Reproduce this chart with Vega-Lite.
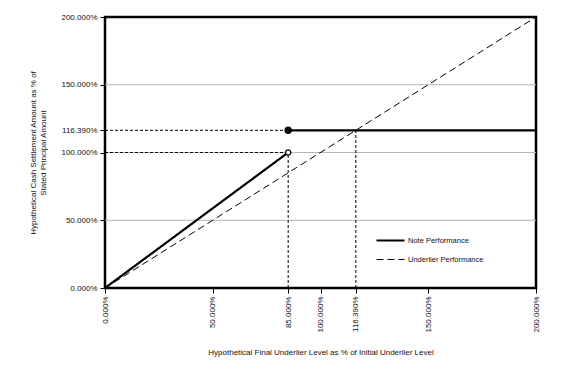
{
  "$schema": "https://vega.github.io/schema/vega-lite/v6.json",
  "width": 431,
  "height": 271,
  "autosize": {"type": "none"},
  "padding": {"left": 105, "top": 17, "right": 37, "bottom": 84},
  "config": {
    "font": "Liberation Sans",
    "view": {"stroke": "black", "strokeWidth": 2.5},
    "axis": {
      "labelFont": "Liberation Sans",
      "titleFont": "Liberation Sans",
      "labelFontSize": 8,
      "titleFontSize": 8,
      "titleFontWeight": "normal",
      "labelColor": "#111",
      "titleColor": "#111",
      "tickColor": "#000",
      "tickSize": 5,
      "domain": false,
      "grid": false
    },
    "legend": {
      "labelFont": "Liberation Sans",
      "labelFontSize": 7.5,
      "labelColor": "#111"
    }
  },
  "datasets": {
    "grid": [
      {"x": 0, "x2": 2, "y": 0.5},
      {"x": 0, "x2": 2, "y": 1.0},
      {"x": 0, "x2": 2, "y": 1.5}
    ],
    "refs": [
      {"x": 0, "x2": 0.85, "y": 1.1639, "y2": 1.1639},
      {"x": 0, "x2": 0.85, "y": 1.0, "y2": 1.0},
      {"x": 0.85, "x2": 0.85, "y": 0, "y2": 1.0},
      {"x": 1.1639, "x2": 1.1639, "y": 0, "y2": 1.1639}
    ],
    "lines": [
      {"series": "Note Performance", "seg": "a", "x": 0, "y": 0},
      {"series": "Note Performance", "seg": "a", "x": 0.85, "y": 1.0},
      {"series": "Note Performance", "seg": "b", "x": 0.85, "y": 1.1639},
      {"series": "Note Performance", "seg": "b", "x": 2.0, "y": 1.1639},
      {"series": "Underlier Performance", "seg": "c", "x": 0, "y": 0},
      {"series": "Underlier Performance", "seg": "c", "x": 2.0, "y": 2.0}
    ],
    "points": [
      {"kind": "closed", "x": 0.85, "y": 1.1639},
      {"kind": "open", "x": 0.85, "y": 1.0}
    ]
  },
  "encoding": {
    "x": {
      "field": "x",
      "type": "quantitative",
      "scale": {"domain": [0, 2], "nice": false, "zero": false},
      "axis": {
        "values": [0, 0.5, 0.85, 1, 1.1639, 1.5, 2],
        "format": ".3%",
        "labelAngle": 270,
        "labelAlign": "right",
        "labelBaseline": "middle",
        "labelPadding": 3,
        "title": "Hypothetical Final Underlier Level as % of Initial Underlier Level",
        "titlePadding": 16
      }
    },
    "y": {
      "field": "y",
      "type": "quantitative",
      "scale": {"domain": [0, 2], "nice": false, "zero": false},
      "axis": {
        "values": [0, 0.5, 1, 1.1639, 1.5, 2],
        "format": ".3%",
        "labelPadding": 3,
        "title": ["Hypothetical Cash Settlement Amount as % of", "Stated Principal Amount"],
        "titlePadding": 13
      }
    }
  },
  "layer": [
    {
      "data": {"name": "grid"},
      "mark": {"type": "rule", "color": "#b4b4b4", "strokeWidth": 1},
      "encoding": {"x2": {"field": "x2"}}
    },
    {
      "data": {"name": "refs"},
      "mark": {"type": "rule", "color": "#000", "strokeWidth": 1, "strokeDash": [3, 2]},
      "encoding": {"x2": {"field": "x2"}, "y2": {"field": "y2"}}
    },
    {
      "data": {"name": "lines"},
      "mark": {"type": "line", "color": "#000"},
      "encoding": {
        "detail": {"field": "seg"},
        "strokeDash": {
          "field": "series",
          "type": "nominal",
          "scale": {"domain": ["Note Performance", "Underlier Performance"], "range": [[1, 0], [7, 4]]},
          "legend": {
            "title": null,
            "orient": "none",
            "legendX": 270,
            "legendY": 208,
            "padding": 0,
            "rowPadding": -5,
            "symbolType": "stroke",
            "symbolSize": 784,
            "symbolStrokeColor": "#000",
            "labelOffset": 2
          }
        },
        "strokeWidth": {
          "field": "series",
          "type": "nominal",
          "scale": {"domain": ["Note Performance", "Underlier Performance"], "range": [2.2, 1]},
          "legend": {
            "title": null,
            "orient": "none",
            "legendX": 270,
            "legendY": 208,
            "padding": 0,
            "rowPadding": -5,
            "symbolType": "stroke",
            "symbolSize": 784,
            "symbolStrokeColor": "#000",
            "labelOffset": 2
          }
        }
      }
    },
    {
      "data": {"name": "points"},
      "mark": {"type": "point", "filled": false, "stroke": "#000", "strokeWidth": 1.3, "opacity": 1},
      "encoding": {
        "fill": {
          "field": "kind",
          "type": "nominal",
          "scale": {"domain": ["closed", "open"], "range": ["#000", "#fff"]},
          "legend": null
        },
        "size": {
          "field": "kind",
          "type": "nominal",
          "scale": {"domain": ["closed", "open"], "range": [40, 28]},
          "legend": null
        }
      }
    }
  ]
}
